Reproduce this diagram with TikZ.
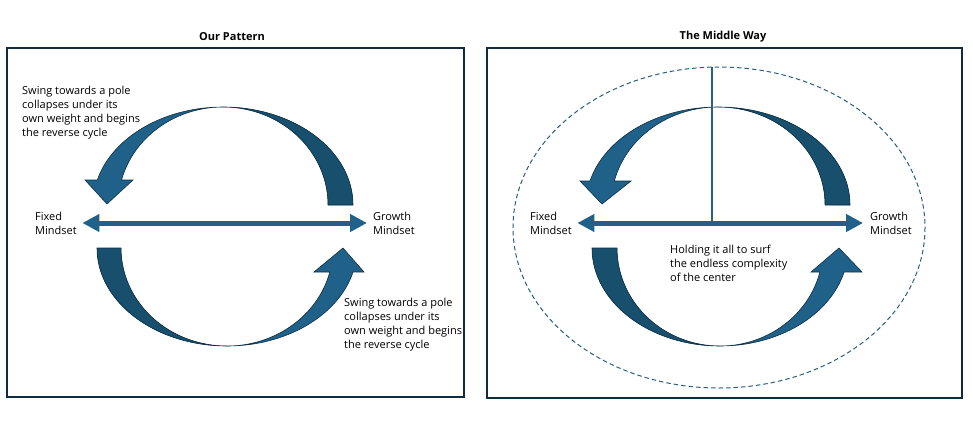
\documentclass[tikz,border=0pt]{standalone}
\usepackage{fontspec}
\setmainfont{Open Sans}
\usetikzlibrary{arrows.meta}
\definecolor{lightblue}{HTML}{1F6189}
\definecolor{darkblue}{HTML}{174F6D}
\definecolor{outl}{HTML}{0E2F44}
\definecolor{frame}{HTML}{0F2B3C}
\definecolor{halo}{HTML}{2A5F82}
\tikzset{
  panel/.style={draw=frame, line width=1.2pt},
  title/.style={font=\bfseries\fontsize{11}{13}\selectfont, inner sep=0pt},
  lbl/.style={font=\fontsize{11}{14}\selectfont, align=left, inner sep=0pt, anchor=west, text=black},
  harrow/.style={draw=lightblue, line width=5pt, {Triangle[length=17pt,width=17pt]}-{Triangle[length=17pt,width=17pt]}},
  lightfill/.style={fill=lightblue},
  darkfill/.style={fill=darkblue},
  outline/.style={draw=outl, line width=0.6pt},
  halostyle/.style={draw=halo, line width=1pt, dash pattern=on 4.5pt off 3pt},
  vline/.style={draw=halo, line width=1.2pt}
}
\begin{document}
\begin{tikzpicture}[x=1pt,y=-1pt]
\useasboundingbox (0,0) rectangle (973,424);
\fill[white] (0,0) rectangle (973,424);

% ---------- Left panel ----------
\draw[panel] (7,48) rectangle (464,397);
\node[title] (t1) at (232,37) {Our Pattern};

% top arrow (tail right, head left)
\fill[lightfill] (353,205) arc[start angle=360,end angle=194.78,x radius=130,y radius=98]
  -- (85,180) -- (107,204) -- (133,180) -- (121.5,180)
  arc[start angle=194.78,end angle=360,x radius=105,y radius=98] -- cycle;
\fill[darkfill] (353,205) arc[start angle=360,end angle=270,x radius=130,y radius=98]
  arc[start angle=270,end angle=360,x radius=105,y radius=98] -- cycle;
\draw[outline] (353,205) arc[start angle=360,end angle=194.78,x radius=130,y radius=98]
  -- (85,180) -- (107,204) -- (133,180) -- (121.5,180)
  arc[start angle=194.78,end angle=360,x radius=105,y radius=98] -- cycle;

% bottom arrow (tail left, head right)
\fill[lightfill] (97,248) arc[start angle=180,end angle=14.17,x radius=130,y radius=98]
  -- (364,272) -- (343,248) -- (314,272) -- (329.8,272)
  arc[start angle=14.17,end angle=180,x radius=106,y radius=98] -- cycle;
\fill[darkfill] (97,248) arc[start angle=180,end angle=90,x radius=130,y radius=98]
  arc[start angle=90,end angle=180,x radius=106,y radius=98] -- cycle;
\draw[outline] (97,248) arc[start angle=180,end angle=14.17,x radius=130,y radius=98]
  -- (364,272) -- (343,248) -- (314,272) -- (329.8,272)
  arc[start angle=14.17,end angle=180,x radius=106,y radius=98] -- cycle;

\node[lbl] (fixL) at (35,223) {Fixed\\Mindset};
\node[lbl] (growL) at (373,223) {Growth\\Mindset};
\draw[harrow, shorten <=5.5pt, shorten >=6pt] (fixL.east) -- (growL.west);

\node[lbl] (noteL1) at (22,113) {Swing towards a pole\\collapses under its\\own weight and begins\\the reverse cycle};
\node[lbl] (noteL2) at (344,325) {Swing towards a pole\\collapses under its\\own weight and begins\\the reverse cycle};

% ---------- Right panel ----------
\draw[panel] (487,48) rectangle (962,398);
\node[title] (t2) at (723,37) {The Middle Way};

\draw[halostyle] (719,227.5) ellipse [x radius=206, y radius=160.5];

% top arrow
\fill[lightfill] (850,205) arc[start angle=360,end angle=194.17,x radius=132,y radius=98]
  -- (580,181) -- (602,204) -- (631,181) -- (614.3,181)
  arc[start angle=194.17,end angle=360,x radius=107,y radius=98] -- cycle;
\fill[darkfill] (850,205) arc[start angle=360,end angle=270,x radius=132,y radius=98]
  arc[start angle=270,end angle=360,x radius=107,y radius=98] -- cycle;
\draw[outline] (850,205) arc[start angle=360,end angle=194.17,x radius=132,y radius=98]
  -- (580,181) -- (602,204) -- (631,181) -- (614.3,181)
  arc[start angle=194.17,end angle=360,x radius=107,y radius=98] -- cycle;

% bottom arrow
\fill[lightfill] (592,248) arc[start angle=180,end angle=14.17,x radius=128,y radius=98]
  -- (862,272) -- (839,248) -- (811,272) -- (819.9,272)
  arc[start angle=14.17,end angle=180,x radius=103,y radius=98] -- cycle;
\fill[darkfill] (592,248) arc[start angle=180,end angle=90,x radius=128,y radius=98]
  arc[start angle=90,end angle=180,x radius=103,y radius=98] -- cycle;
\draw[outline] (592,248) arc[start angle=180,end angle=14.17,x radius=128,y radius=98]
  -- (862,272) -- (839,248) -- (811,272) -- (819.9,272)
  arc[start angle=14.17,end angle=180,x radius=103,y radius=98] -- cycle;

\coordinate (vtop) at (712,67);
\coordinate (vbot) at (712,223);
\draw[vline] (vtop) -- (vbot);

\node[lbl] (fixR) at (530,223) {Fixed\\Mindset};
\node[lbl] (growR) at (870,223) {Growth\\Mindset};
\draw[harrow, shorten <=5.5pt, shorten >=7pt] (fixR.east) -- (growR.west);

\node[lbl] (hold) at (670,263.5) {Holding it all to surf\\the endless complexity\\of the center};
\end{tikzpicture}
\end{document}
